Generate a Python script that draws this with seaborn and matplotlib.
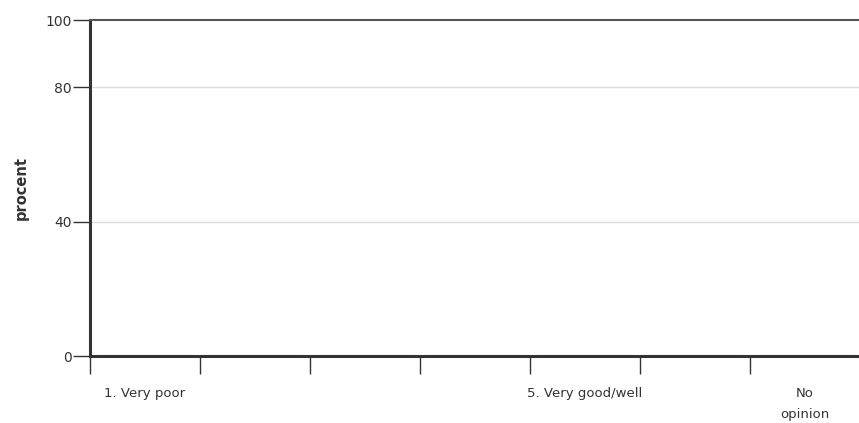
import numpy as np
import pandas as pd
import matplotlib
matplotlib.use("Agg")
import matplotlib.pyplot as plt
import seaborn as sns

categories = ["1. Very poor", "2", "3", "4", "5. Very good/well", "6", "No opinion"]
tick_labels = ["1. Very poor", "", "", "", "5. Very good/well", "", "No\nopinion"]
values = [0, 0, 0, 0, 0, 0, 0]
y_ticks = [0, 40, 80, 100]

sns.set_theme(style="white")
plt.rcParams['font.family'] = ['DejaVu Sans']

df = pd.DataFrame({"category": categories, "procent": values})

fig = plt.figure(figsize=(8.59, 4.23), dpi=100)
ax = fig.add_axes([90 / 859, 67 / 423, 770 / 859, 336 / 423])

sns.barplot(data=df, x="category", y="procent", order=categories, ax=ax,
            color="#d9d9d9", edgecolor="#bbbbbb", linewidth=1.5, width=0.85)

ax.set_ylim(0, 100)
ax.set_xlim(-0.5, len(categories) - 0.5)
ax.set_yticks(y_ticks)
ax.set_yticklabels([str(t) for t in y_ticks], fontsize=10, color="#333333")
ax.tick_params(axis="y", direction="out", length=12, width=1, color="#333333", pad=1, left=True)

for y in [40, 80]:
    ax.axhline(y, color="#dddddd", linewidth=1, zorder=0)

# category boundaries as ticks, labels sit between them
ax.set_xticks(np.arange(-0.5, len(categories) - 0.5, 1.0))
ax.set_xticklabels([""] * len(categories))
ax.tick_params(axis="x", which="major", direction="out", length=13, width=1, color="#333333", bottom=True)
ax.set_xticks(np.arange(len(categories)), minor=True)
ax.set_xticklabels(tick_labels, minor=True, fontsize=9.5, color="#333333", linespacing=1.85)
ax.tick_params(axis="x", which="minor", length=0, pad=22)

ax.set_xlabel("")
ax.set_ylabel("procent", fontsize=10.5, fontweight="bold", color="#333333", labelpad=12)

for side in ["left", "bottom"]:
    ax.spines[side].set_linewidth(2.2)
    ax.spines[side].set_color("#333333")
ax.spines["top"].set_linewidth(1.5)
ax.spines["top"].set_color("#555555")
ax.spines["right"].set_visible(False)

fig.savefig("out.png", dpi=100)
